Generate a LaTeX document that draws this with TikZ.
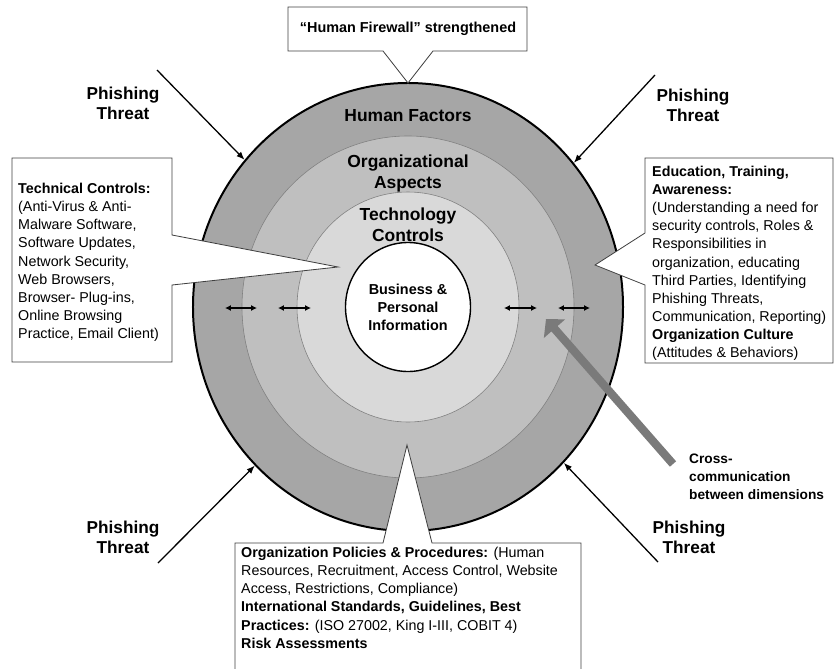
\documentclass[tikz,border=0pt]{standalone}
\usepackage{fontspec}
\setmainfont{Liberation Sans}
\usetikzlibrary{positioning,arrows.meta,shapes.geometric}

\begin{document}
\begin{tikzpicture}[
        x=0.03cm, y=-0.03cm,
        ring/.style={ellipse, inner sep=0pt},
        callout/.style={draw=black!75, fill=white, line width=0.7pt},
        threat/.style={-{Latex[length=7pt, width=5.5pt]}, line width=1.1pt},
        dimarrow/.style={{Latex[length=5pt, width=5pt]}-{Latex[length=5pt, width=5pt]}, line width=0.9pt},
        crossarrow/.style={-{Triangle[length=11pt, width=23.5pt]}, line width=7pt, draw=black!52},
        phish/.style={align=center, inner sep=0pt, anchor=north, font=\fontsize{14.7}{17}\selectfont\bfseries},
        layer/.style={align=center, inner sep=0pt, anchor=north, font=\fontsize{14.9}{17.5}\selectfont\bfseries},
        boxtext/.style={align=left, inner sep=0pt, anchor=north west, font=\fontsize{12.2}{15.45}\selectfont}
    ]
    \useasboundingbox (0,0) rectangle (834,669);

    \node[ring, fill=black!35, draw=black, line width=1.7pt, minimum width=12.9cm, minimum height=13.44cm] (human) at (408,307) {};
    \node[ring, fill=black!25, draw=black!50, line width=0.5pt, minimum width=9.96cm, minimum height=10.26cm] (org) at (408,307) {};
    \node[ring, fill=black!15, draw=black!50, line width=0.5pt, minimum width=6.66cm, minimum height=6.9cm] (tech) at (408,307) {};
    \node[ring, fill=white, draw=black, line width=1.2pt, minimum width=3.75cm, minimum height=3.87cm, align=center,
        font=\fontsize{12.3}{15.4}\selectfont\bfseries] (info) at (408,307) {Business \&\\Personal\\Information};

    \node[layer] (humanlabel) at (408,109) {Human Factors};
    \node[layer] (orglabel) at (408,155) {Organizational\\Aspects};
    \node[layer] (techlabel) at (408,208) {Technology\\Controls};

    \foreach \a/\b [count=\i] in {225/257, 278/311, 504/537, 558/590} {
        \coordinate (dl\i) at (\a,308);
        \coordinate (dr\i) at (\b,308);
        \draw[dimarrow] (dl\i) -- (dr\i);
    }

    \draw[callout] (288,7) -- (527,7) -- (527,51) -- (433,51) -- (408,83) -- (383,51) -- (288,51) -- cycle;
    \draw[callout] (12,158) -- (172,158) -- (172,235) -- (338,267) -- (172,285) -- (172,362) -- (12,362) -- cycle;
    \draw[callout] (645,158) -- (833,158) -- (833,363) -- (645,363) -- (645,285) -- (595,265) -- (645,233) -- cycle;
    \draw[callout] (235,543) -- (383,543) -- (407,445) -- (432,543) -- (581,543) -- (581,680) -- (235,680) -- cycle;

    \node[font=\fontsize{12.3}{15}\selectfont\bfseries, inner sep=0pt] (firewall) at (408,28.5) {“Human Firewall” strengthened};

    \node[boxtext] (technical) at (18,183) {\textbf{Technical Controls:}\\(Anti-Virus \& Anti-\\Malware Software,\\Software Updates,\\Network Security,\\Web Browsers,\\Browser- Plug-ins,\\Online Browsing\\Practice, Email Client)};
    \node[boxtext] (education) at (652,166) {\textbf{Education, Training,}\\\textbf{Awareness:}\\(Understanding a need for\\security controls, Roles \&\\Responsibilities in\\organization, educating\\Third Parties, Identifying\\Phishing Threats,\\Communication, Reporting)\\\textbf{Organization Culture}\\(Attitudes \& Behaviors)};
    \node[boxtext] (policies) at (241,547) {\textbf{Organization Policies \& Procedures:} (Human\\Resources, Recruitment, Access Control, Website\\Access, Restrictions, Compliance)\\\textbf{International Standards, Guidelines, Best}\\\textbf{Practices:} (ISO 27002, King I-III, COBIT 4)\\\textbf{Risk Assessments}};

    \coordinate (crosstail) at (673,464);
    \coordinate (crosstip) at (546,319);
    \draw[crossarrow] (crosstail) -- (crosstip);
    \node[align=left, inner sep=0pt, anchor=north west, font=\fontsize{11.7}{15.1}\selectfont\bfseries] (cross) at (689,454) {Cross-\\communication\\between dimensions};

    \node[phish] (tl) at (123,87) {Phishing\\Threat};
    \node[phish] (tr) at (693,89) {Phishing\\Threat};
    \node[phish] (bl) at (123,521) {Phishing\\Threat};
    \node[phish] (br) at (689,521) {Phishing\\Threat};

    \coordinate (tlstart) at (157,70);
    \coordinate (trstart) at (655,75);
    \coordinate (blstart) at (158,563);
    \coordinate (brstart) at (658,562);
    \draw[threat] (tlstart) -- (human.138);
    \draw[threat] (trstart) -- (human.41);
    \draw[threat] (blstart) -- (human.226);
    \draw[threat] (brstart) -- (human.315);
\end{tikzpicture}
\end{document}
